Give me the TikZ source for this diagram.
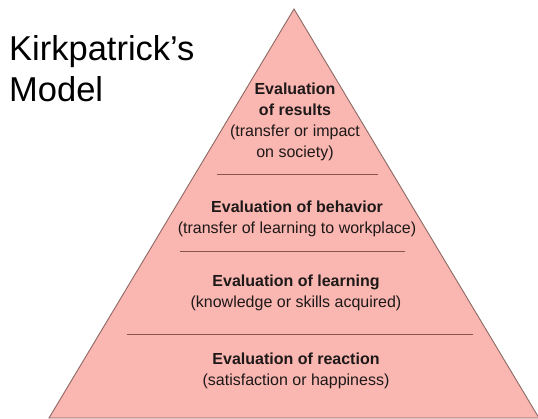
\documentclass[tikz,border=0pt]{standalone}
\usepackage{fontspec}
\setmainfont{Liberation Sans}
\definecolor{pyrfill}{RGB}{250,182,176}
\definecolor{pyredge}{RGB}{140,105,100}
\definecolor{divline}{RGB}{135,85,80}
\definecolor{txt}{RGB}{30,25,25}
\begin{document}
\begin{tikzpicture}[x=1pt,y=-1pt,
  lvl/.style={align=center,text=txt,font=\fontsize{16}{21}\selectfont,inner sep=0pt},
  divider/.style={draw=divline,line width=1pt},
  title/.style={anchor=base west,inner sep=0pt,font=\fontsize{34.5}{41}\selectfont,text=black}]
  \useasboundingbox (0,0) rectangle (538,419);
  % pyramid body
  \coordinate (apex) at (294,9);
  \coordinate (bl) at (49,418);
  \coordinate (br) at (539,418);
  \filldraw[fill=pyrfill,draw=pyredge,line width=0.9pt] (apex) -- (bl) -- (br) -- cycle;
  % dividers between the levels
  \coordinate (d1a) at (217,175); \coordinate (d1b) at (378,175);
  \coordinate (d2a) at (180,252); \coordinate (d2b) at (405,252);
  \coordinate (d3a) at (127,335); \coordinate (d3b) at (473,335);
  \draw[divider] (d1a) -- (d1b);
  \draw[divider] (d2a) -- (d2b);
  \draw[divider] (d3a) -- (d3b);
  % title
  \node[title] (t1) at (9,61) {Kirkpatrick’s};
  \node[title] (t2) at (9,102) {Model};
  % levels
  \node[lvl] (results) at (295,122) {\textbf{Evaluation}\\\textbf{of results}\\(transfer or impact\\on society)};
  \node[lvl] (behavior) at (297,219) {\textbf{Evaluation of behavior}\\(transfer of learning to workplace)};
  \node[lvl] (learning) at (296,293) {\textbf{Evaluation of learning}\\(knowledge or skills acquired)};
  \node[lvl] (reaction) at (296,371) {\textbf{Evaluation of reaction}\\(satisfaction or happiness)};
\end{tikzpicture}
\end{document}
